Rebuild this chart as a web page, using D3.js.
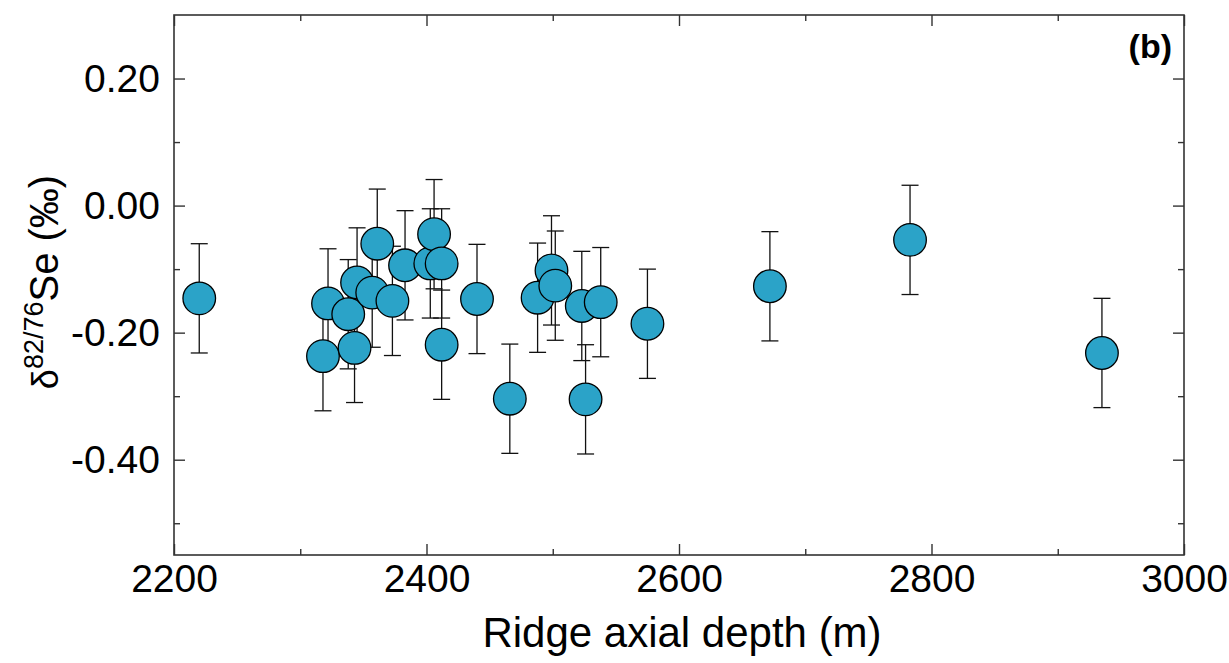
<!DOCTYPE html>
<html>
<head>
<meta charset="utf-8">
<script src="https://cdn.jsdelivr.net/npm/d3@7/dist/d3.min.js"></script>
<style>
  html, body { margin: 0; padding: 0; background: #fff; }
  svg { display: block; }
  text { font-family: "Liberation Sans", Arial, sans-serif; fill: #000; }
</style>
</head>
<body>
<script>
// Data
const depth = [2220, 2322, 2318, 2338, 2343, 2345, 2357, 2361, 2373, 2383, 2403, 2406, 2412, 2412, 2440, 2466, 2488, 2499, 2502, 2523, 2526, 2538, 2575, 2672, 2783, 2935];
const delta = [-0.146, -0.154, -0.237, -0.171, -0.224, -0.121, -0.137, -0.060, -0.150, -0.094, -0.091, -0.045, -0.091, -0.219, -0.147, -0.304, -0.145, -0.102, -0.126, -0.158, -0.305, -0.152, -0.186, -0.127, -0.054, -0.232];
const err   = [0.086, 0.086, 0.086, 0.086, 0.086, 0.086, 0.086, 0.086, 0.086, 0.086, 0.086, 0.086, 0.086, 0.086, 0.086, 0.086, 0.086, 0.086, 0.086, 0.086, 0.086, 0.086, 0.086, 0.086, 0.086, 0.086];
const xMajorTicks = [2200, 2400, 2600, 2800, 3000];
const xMinorTicks = [2300, 2500, 2700, 2900];
const yMajorTicks = [0.20, 0.00, -0.20, -0.40];
const yMinorTicks = [0.10, -0.10, -0.30, -0.50];
const xDomain = [2200, 3000];
const yDomain = [-0.55, 0.30];

const W = 1229, H = 663;
const L = 174, R = 1184, T = 15, B = 555;

const svg = d3.select("body").append("svg").attr("width", W).attr("height", H);

const x = d3.scaleLinear().domain(xDomain).range([L, R]);
const y = d3.scaleLinear().domain(yDomain).range([B, T]);

const axisColor = "#333";
function styleAxis(g) {
  g.select(".domain").remove();
  g.selectAll(".tick line").attr("stroke", axisColor).attr("stroke-width", 1.4);
}

// Bottom axis (labels)
svg.append("g").attr("transform", `translate(0,${B})`)
  .call(d3.axisBottom(x).tickValues(xMajorTicks).tickSize(-11).tickPadding(9).tickFormat(d3.format("d")))
  .call(styleAxis)
  .call(g => g.selectAll("text").attr("font-size", 39).attr("font-family", "Liberation Sans, Arial, sans-serif"));
svg.append("g").attr("transform", `translate(0,${B})`)
  .call(d3.axisBottom(x).tickValues(xMinorTicks).tickSize(-6).tickFormat(""))
  .call(styleAxis);
// Top axis
svg.append("g").attr("transform", `translate(0,${T})`)
  .call(d3.axisTop(x).tickValues(xMajorTicks).tickSize(-11).tickFormat(""))
  .call(styleAxis);
svg.append("g").attr("transform", `translate(0,${T})`)
  .call(d3.axisTop(x).tickValues(xMinorTicks).tickSize(-6).tickFormat(""))
  .call(styleAxis);
// Left axis (labels)
svg.append("g").attr("transform", `translate(${L},0)`)
  .call(d3.axisLeft(y).tickValues(yMajorTicks).tickSize(-11).tickPadding(14).tickFormat(d => d3.format(".2f")(d).replace("−", "-")))
  .call(styleAxis)
  .call(g => g.selectAll("text").attr("font-size", 39).attr("font-family", "Liberation Sans, Arial, sans-serif"));
svg.append("g").attr("transform", `translate(${L},0)`)
  .call(d3.axisLeft(y).tickValues(yMinorTicks).tickSize(-6).tickFormat(""))
  .call(styleAxis);
// Right axis
svg.append("g").attr("transform", `translate(${R},0)`)
  .call(d3.axisRight(y).tickValues(yMajorTicks).tickSize(-11).tickFormat(""))
  .call(styleAxis);
svg.append("g").attr("transform", `translate(${R},0)`)
  .call(d3.axisRight(y).tickValues(yMinorTicks).tickSize(-6).tickFormat(""))
  .call(styleAxis);

// Frame
svg.append("rect").attr("x", L).attr("y", T).attr("width", R - L).attr("height", B - T)
  .attr("fill", "none").attr("stroke", axisColor).attr("stroke-width", 1.6);

const data = depth.map((d, i) => ({ x: d, y: delta[i], e: err[i] }));

// Error bars
const eb = svg.append("g").attr("stroke", "#111").attr("stroke-width", 1.3).attr("fill", "none");
const cap = 8.5;
data.forEach(d => {
  const cx = x(d.x), y1 = y(d.y + d.e), y2 = y(d.y - d.e);
  eb.append("line").attr("x1", cx).attr("x2", cx).attr("y1", y1).attr("y2", y2);
  eb.append("line").attr("x1", cx - cap).attr("x2", cx + cap).attr("y1", y1).attr("y2", y1);
  eb.append("line").attr("x1", cx - cap).attr("x2", cx + cap).attr("y1", y2).attr("y2", y2);
});

// Points
svg.append("g").selectAll("circle").data(data).join("circle")
  .attr("cx", d => x(d.x)).attr("cy", d => y(d.y)).attr("r", 16.3)
  .attr("fill", "#2BA3C8").attr("stroke", "#000").attr("stroke-width", 1.3);

// Panel label
svg.append("text").attr("x", 1172).attr("y", 58).attr("text-anchor", "end")
  .attr("font-size", 34).attr("font-weight", "bold").text("(b)");

// X title
svg.append("text").attr("x", 682).attr("y", 647).attr("text-anchor", "middle")
  .attr("font-size", 42).text("Ridge axial depth (m)");

// Y title
const yt = svg.append("text").attr("transform", "translate(58,282) rotate(-90)")
  .attr("text-anchor", "middle").attr("font-size", 40);
yt.append("tspan").attr("font-size", 36).text("δ");
yt.append("tspan").attr("font-size", 27).attr("dy", -15).text("82/76");
yt.append("tspan").attr("dy", 15).text("Se (‰)");
</script>
</body>
</html>
